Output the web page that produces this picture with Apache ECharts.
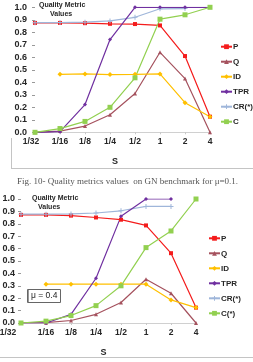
<!DOCTYPE html>
<html>
<head>
<meta charset="utf-8">
<script src="https://cdn.jsdelivr.net/npm/echarts@6/dist/echarts.min.js"></script>
<style>
  html, body { margin: 0; padding: 0; background: #fff; }
  #chart { width: 253px; height: 362px; }
</style>
</head>
<body>
<div id="chart"></div>
<script>
// categories (s)
var categories = ['1/32', '1/16', '1/8', '1/4', '1/2', '1', '2', '4'];

// top chart, mu = 0.1
var pTop = [0.875, 0.875, 0.873, 0.868, 0.866, 0.855, 0.61, 0.125];
var qTop = [0.0, 0.01, 0.05, 0.14, 0.31, 0.64, 0.43, 0.0];
var idTop = [null, 0.464, 0.467, 0.462, 0.464, 0.467, 0.237, 0.125];
var tprTop = [0.0, 0.005, 0.222, 0.742, 1.0, 1.0, 1.0, 1.0];
var crTop = [0.877, 0.878, 0.881, 0.891, 0.92, 0.988, 0.99, null];
var cTop = [0.0, 0.03, 0.087, 0.2, 0.436, 0.905, 0.94, 1.0];

// bottom chart, mu = 0.4
var pBot = [0.872, 0.872, 0.866, 0.851, 0.833, 0.787, 0.563, 0.124];
var qBot = [0.0, 0.003, 0.02, 0.07, 0.165, 0.353, 0.24, 0.0];
var idBot = [null, 0.313, 0.313, 0.313, 0.313, 0.313, 0.186, 0.124];
var tprBot = [0.0, 0.0, 0.07, 0.361, 0.86, 1.0, 1.0, null];
var crBot = [0.878, 0.878, 0.88, 0.887, 0.905, 0.94, 0.94, null];
var cBot = [0.0, 0.015, 0.06, 0.14, 0.3, 0.608, 0.742, 1.0];

var legendTop = ['P', 'Q', 'ID', 'TPR', 'CR(*)', 'C'];
var legendBot = ['P', 'Q', 'ID', 'TPR', 'CR(*)', 'C(*)'];

var crossPath = 'path://M4,0h2v4h4v2h-4v4h-2v-4h-4v-2h4z';
var styles = {
	'P': { color: '#f41c1c', symbol: 'rect', size: 4 },
	'Q': { color: '#a5525e', symbol: 'triangle', size: 4 },
	'ID': { color: '#ffc000', symbol: 'diamond', size: 5 },
	'TPR': { color: '#7030a0', symbol: 'diamond', size: 4 },
	'CR(*)': { color: '#9fb6da', symbol: crossPath, size: 5 },
	'C': { color: '#92d050', symbol: 'rect', size: 5 },
	'C(*)': { color: '#92d050', symbol: 'rect', size: 5 }
};

var labelFont = 'Liberation Sans';
var textColor = '#262626';

function line(name, data, idx) {
	var s = styles[name];
	return {
		name: name,
		type: 'line',
		xAxisIndex: idx,
		yAxisIndex: idx,
		data: data,
		symbol: s.symbol,
		symbolSize: s.size,
		showAllSymbol: true,
		lineStyle: { color: s.color, width: 1.2 },
		itemStyle: { color: s.color },
		emphasis: { disabled: true },
		animation: false
	};
}

function xAxis(idx, shift, nameShift) {
	return {
		type: 'category',
		gridIndex: idx,
		data: categories,
		boundaryGap: false,
		name: 'S',
		nameLocation: 'middle',
		nameGap: 25,
		nameTextStyle: { fontFamily: labelFont, fontWeight: 'bold', fontSize: 9, color: textColor, padding: [0, nameShift, 0, 0] },
		axisLine: { lineStyle: { color: '#d0d0d0', width: 1 } },
		axisTick: { show: true, length: 2, lineStyle: { color: '#c8c8c8' } },
		axisLabel: {
			interval: 0,
			hideOverlap: false,
			margin: 5,
			fontFamily: labelFont,
			fontWeight: 'bold',
			fontSize: 8.5,
			color: textColor,
			formatter: function(v, i) {
				return i === 0 ? '{f|' + v + '}' : v;
			},
			rich: {
				f: { fontFamily: labelFont, fontWeight: 'bold', fontSize: 8.5, color: textColor, padding: [0, shift, 0, 0] }
			}
		},
		splitLine: { show: false }
	};
}

function yAxis(idx, margin) {
	return {
		type: 'value',
		gridIndex: idx,
		min: 0,
		max: 1,
		interval: 0.1,
		axisLine: { show: false },
		axisTick: { show: true, length: 3, lineStyle: { color: '#999' } },
		axisLabel: {
			showMinLabel: true,
			showMaxLabel: true,
			margin: margin,
			fontFamily: labelFont,
			fontWeight: 'bold',
			fontSize: 9,
			color: textColor,
			formatter: function(v) { return v.toFixed(1); }
		},
		splitLine: { show: false }
	};
}

function legend(names, left, top) {
	return {
		orient: 'vertical',
		left: left,
		top: top,
		data: names,
		itemWidth: 11,
		itemHeight: 6,
		itemGap: 5,
		padding: 0,
		selectedMode: false,
		textStyle: { fontFamily: labelFont, fontWeight: 'bold', fontSize: 8, lineHeight: 10, color: textColor, padding: [0, 0, 0, -4] }
	};
}

var chart = echarts.init(document.getElementById('chart'), null, { renderer: 'canvas' });

var option = {
	backgroundColor: '#fff',
	animation: false,
	grid: [
		{ left: 35, right: 43, top: 7.3, height: 125, outerBoundsMode: 'none' },
		{ left: 21, right: 57, top: 199, height: 124, outerBoundsMode: 'none' }
	],
	xAxis: [xAxis(0, 8, 15), xAxis(1, 26, 10)],
	yAxis: [yAxis(0, 8), yAxis(1, 6)],
	legend: [legend(legendTop, 220, 41.7), legend(legendBot, 208, 233.3)],
	series: [
		line('P', pTop, 0),
		line('Q', qTop, 0),
		line('ID', idTop, 0),
		line('CR(*)', crTop, 0),
		line('TPR', tprTop, 0),
		line('C', cTop, 0),
		line('P', pBot, 1),
		line('Q', qBot, 1),
		line('ID', idBot, 1),
		line('CR(*)', crBot, 1),
		line('TPR', tprBot, 1),
		line('C(*)', cBot, 1)
	],
	graphic: [
		// frame of top chart
		{ type: 'line', shape: { x1: 11, y1: 168.5, x2: 253, y2: 168.5 }, style: { stroke: '#c4c4c4', lineWidth: 1 } },
		{ type: 'line', shape: { x1: 11.5, y1: 138, x2: 11.5, y2: 168.5 }, style: { stroke: '#c4c4c4', lineWidth: 1 } },
		// frame of bottom chart
		{ type: 'line', shape: { x1: 0, y1: 357.5, x2: 253, y2: 357.5 }, style: { stroke: '#c4c4c4', lineWidth: 1 } },
		// axis titles
		{ type: 'text', left: 39, top: 2, style: { text: 'Quality Metric', font: 'bold 7px "Liberation Sans"', fill: textColor } },
		{ type: 'text', left: 50, top: 11, style: { text: 'Values', font: 'bold 7px "Liberation Sans"', fill: textColor } },
		{ type: 'text', left: 32, top: 195, style: { text: 'Quality Metric', font: 'bold 7px "Liberation Sans"', fill: textColor } },
		{ type: 'text', left: 38, top: 204, style: { text: 'Values', font: 'bold 7px "Liberation Sans"', fill: textColor } },
		// caption
		{ type: 'text', left: 17, top: 177, style: { text: 'Fig. 10- Quality metrics values  on GN benchmark for \u03bc=0.1.', font: '9px "Liberation Serif"', fill: '#555' } },
		// mu box
		{ type: 'rect', shape: { x: 27.5, y: 289.5, width: 33, height: 13 }, style: { fill: '#fff', stroke: '#666', lineWidth: 1 }, z: 10 },
		{ type: 'line', shape: { x1: 28.5, y1: 290, x2: 28.5, y2: 302 }, style: { stroke: '#999', lineWidth: 1 }, z: 11 },
		{ type: 'text', left: 31, top: 291, z: 11, style: { text: '\u03bc = 0.4', font: '8.5px "Liberation Sans"', fill: '#222' } }
	]
};

chart.setOption(option);
</script>
</body>
</html>
